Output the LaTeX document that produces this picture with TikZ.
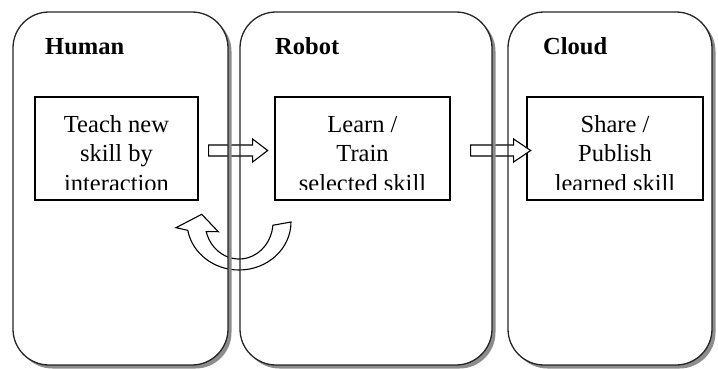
\documentclass[tikz,border=0pt]{standalone}
\usepackage{fontspec}
\setmainfont{Liberation Serif}
\usetikzlibrary{calc}
\begin{document}
\begin{tikzpicture}[x=1pt,y=-1pt,
  panel/.style={draw=black!85, line width=1.3pt, rounded corners=36pt},
  panelshade/.style={fill=black!45, rounded corners=36pt},
  skillbox/.style={draw=black, line width=1.3pt, minimum width=#1, minimum height=103pt, inner sep=0pt},
  boxtext/.style={font=\fontsize{24.5}{29.5}\selectfont, anchor=base, inner sep=0pt},
  heading/.style={font=\fontsize{24.5}{29.5}\selectfont\bfseries, anchor=base west, inner sep=0pt},
  blockarrow/.style={draw=black, fill=white, line width=1.1pt, line join=miter},
]
\useasboundingbox (0,0) rectangle (718,369);

% skill boxes
\node[skillbox=163pt] (hbox) at (116.5,148.5) {};
\node[skillbox=175pt] (rbox) at (362.5,148.5) {};
\node[skillbox=176pt] (cbox) at (615,148.5) {};

% box texts, cut off above the lower edge of each box
\begin{scope}
  \clip (hbox.north west) rectangle ($(hbox.south east)+(0,-11)$);
  \node[boxtext] (h1) at (116.5,132) {Teach new};
  \node[boxtext] (h2) at (116.5,161.5) {skill by};
  \node[boxtext] (h3) at (116.5,191) {interaction};
\end{scope}
\begin{scope}
  \clip (rbox.north west) rectangle ($(rbox.south east)+(0,-11)$);
  \node[boxtext] (r1) at (362.5,132) {Learn /};
  \node[boxtext] (r2) at (362.5,161.5) {Train};
  \node[boxtext] (r3) at (362.5,191) {selected skill};
\end{scope}
\begin{scope}
  \clip (cbox.north west) rectangle ($(cbox.south east)+(0,-11)$);
  \node[boxtext] (c1) at (615,132) {Share /};
  \node[boxtext] (c2) at (615,161.5) {Publish};
  \node[boxtext] (c3) at (615,191) {learned skill};
\end{scope}

% block arrows between the boxes
\draw[blockarrow] ($(hbox.east)+(10,-3.5)$) -- ++(44,0) -- ++(0,-6) -- ++(15,11.5)
  -- ++(-15,11.5) -- ++(0,-6) -- ++(-44,0) -- cycle;
\draw[blockarrow] ($(rbox.east)+(20,-3.5)$) -- ++(43,0) -- ++(0,-6) -- ++(17,11.5)
  -- ++(-17,11.5) -- ++(0,-6) -- ++(-43,0) -- cycle;

% curved return arrow
\draw[blockarrow] (176,227.7) -- (201.7,214.3) -- (218.3,231.7) -- (206.2,231.6)
  arc[start angle=165, end angle=5, x radius=34, y radius=37] -- (291,222)
  arc[start angle=0, end angle=170, x radius=52, y radius=48] -- cycle;

% panel shadows, kept outside each panel (outer frame wound opposite to the panel)
\begin{scope}
  \clip[rounded corners=36pt] (-100,-100) -- (818,-100) -- (818,469) -- (-100,469) -- cycle
    (13,12) rectangle (228,365);
  \fill[panelshade] (16.5,15.5) rectangle (231.5,368.5);
\end{scope}
\begin{scope}
  \clip[rounded corners=36pt] (-100,-100) -- (818,-100) -- (818,469) -- (-100,469) -- cycle
    (240,12) rectangle (492,365);
  \fill[panelshade] (243.5,15.5) rectangle (495.5,368.5);
\end{scope}
\begin{scope}
  \clip[rounded corners=36pt] (-100,-100) -- (818,-100) -- (818,469) -- (-100,469) -- cycle
    (508,12) rectangle (712,365);
  \fill[panelshade] (511.5,15.5) rectangle (715.5,368.5);
\end{scope}

% panels
\draw[panel] (13,12) rectangle (228,365);
\draw[panel] (240,12) rectangle (492,365);
\draw[panel] (508,12) rectangle (712,365);

% panel headings
\node[heading] (human) at (45,55) {Human};
\node[heading] (robot) at (275,55) {Robot};
\node[heading] (cloud) at (543,55) {Cloud};
\end{tikzpicture}
\end{document}
